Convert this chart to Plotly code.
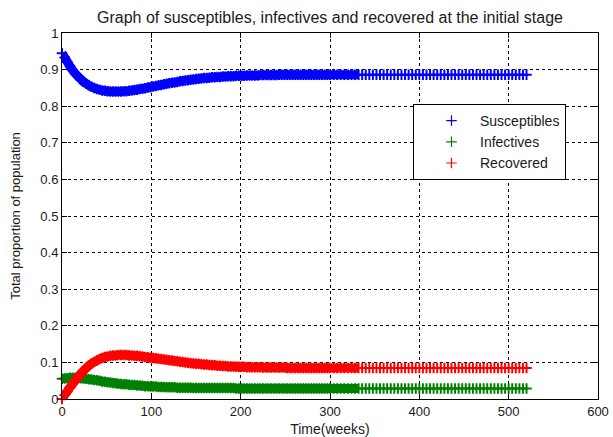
import plotly.graph_objects as go

# time points (weeks) of the solver output
time_weeks = [
    0, 3, 6, 9, 12, 15, 18, 21, 24, 27,
    30, 33, 36, 39, 42, 45, 48, 51, 54, 57,
    60, 63, 66, 69, 72, 75, 78, 81, 84, 87,
    90, 93, 96, 99, 102, 105, 108, 111, 114, 117,
    120, 123, 126, 129, 132, 135, 138, 141, 144, 147,
    150, 153, 156, 159, 162, 165, 168, 171, 174, 177,
    180, 183, 186, 189, 192, 195, 198, 201, 204, 207,
    210, 213, 216, 219, 222, 225, 228, 231, 234, 237,
    240, 243, 246, 249, 252, 255, 258, 261, 264, 267,
    270, 273, 276, 279, 282, 285, 288, 291, 294, 297,
    300,
    304, 308, 312, 316, 320, 324, 328, 332, 336, 340, 344,
    348, 352, 356, 360, 364, 368, 372, 376, 380, 384, 388,
    392, 396, 400, 404, 408, 412, 416, 420, 424, 428, 432,
    436, 440, 444, 448, 452, 456, 460, 464, 468, 472, 476,
    480, 484, 488, 492, 496, 500, 504, 508, 512, 516, 520,
]

susceptibles = [
    0.945, 0.933, 0.921, 0.909, 0.898, 0.889, 0.881, 0.874, 0.867, 0.862,
    0.857, 0.853, 0.850, 0.847, 0.845, 0.843, 0.842, 0.841, 0.840, 0.840,
    0.840, 0.840, 0.840, 0.841, 0.841, 0.842, 0.843, 0.844, 0.845, 0.847,
    0.848, 0.849, 0.851, 0.852, 0.854, 0.855, 0.857, 0.858, 0.860, 0.861,
    0.863, 0.864, 0.865, 0.866, 0.868, 0.869, 0.870, 0.871, 0.872, 0.873,
    0.874, 0.875, 0.876, 0.877, 0.877, 0.878, 0.879, 0.879, 0.880, 0.880,
    0.881, 0.881, 0.882, 0.882, 0.882, 0.883, 0.883, 0.883, 0.883, 0.884,
    0.884, 0.884, 0.884, 0.884, 0.885, 0.885, 0.885, 0.885, 0.885, 0.885,
    0.885, 0.886, 0.886, 0.886, 0.886, 0.886, 0.886, 0.886, 0.886, 0.886,
    0.886, 0.886, 0.886, 0.886, 0.886, 0.886, 0.886, 0.886, 0.886, 0.886,
    0.886,
    0.886, 0.886, 0.886, 0.886, 0.886, 0.886, 0.886, 0.886, 0.886, 0.886, 0.886,
    0.886, 0.886, 0.886, 0.886, 0.886, 0.886, 0.886, 0.886, 0.886, 0.886, 0.886,
    0.886, 0.886, 0.886, 0.886, 0.886, 0.886, 0.886, 0.886, 0.886, 0.886, 0.886,
    0.886, 0.886, 0.886, 0.886, 0.886, 0.886, 0.886, 0.886, 0.886, 0.886, 0.886,
    0.886, 0.886, 0.886, 0.886, 0.886, 0.886, 0.886, 0.886, 0.886, 0.886, 0.886,
]

infectives = [
    0.055, 0.056, 0.057, 0.058, 0.058, 0.058, 0.057, 0.057, 0.056, 0.055,
    0.054, 0.053, 0.052, 0.051, 0.050, 0.048, 0.047, 0.046, 0.045, 0.044,
    0.043, 0.042, 0.041, 0.040, 0.040, 0.039, 0.038, 0.038, 0.037, 0.037,
    0.036, 0.035, 0.035, 0.034, 0.034, 0.034, 0.033, 0.033, 0.033, 0.032,
    0.032, 0.032, 0.032, 0.031, 0.031, 0.031, 0.031, 0.031, 0.031, 0.030,
    0.030, 0.030, 0.030, 0.030, 0.030, 0.030, 0.030, 0.030, 0.030, 0.030,
    0.030, 0.030, 0.030, 0.030, 0.030, 0.029, 0.029, 0.029, 0.029, 0.029,
    0.029, 0.029, 0.029, 0.029, 0.029, 0.029, 0.029, 0.029, 0.029, 0.029,
    0.029, 0.029, 0.029, 0.029, 0.029, 0.029, 0.029, 0.029, 0.029, 0.029,
    0.029, 0.029, 0.029, 0.029, 0.029, 0.029, 0.029, 0.029, 0.029, 0.029,
    0.029,
    0.029, 0.029, 0.029, 0.029, 0.029, 0.029, 0.029, 0.029, 0.029, 0.029, 0.029,
    0.029, 0.029, 0.029, 0.029, 0.029, 0.029, 0.029, 0.029, 0.029, 0.029, 0.029,
    0.029, 0.029, 0.029, 0.029, 0.029, 0.029, 0.029, 0.029, 0.029, 0.029, 0.029,
    0.029, 0.029, 0.029, 0.029, 0.029, 0.029, 0.029, 0.029, 0.029, 0.029, 0.029,
    0.029, 0.029, 0.029, 0.029, 0.029, 0.029, 0.029, 0.029, 0.029, 0.029, 0.029,
]

recovered = [
    0.000, 0.011, 0.021, 0.032, 0.042, 0.051, 0.060, 0.069, 0.077, 0.084,
    0.091, 0.097, 0.101, 0.105, 0.109, 0.112, 0.115, 0.116, 0.118, 0.119,
    0.119, 0.120, 0.120, 0.120, 0.120, 0.119, 0.119, 0.118, 0.118, 0.117,
    0.116, 0.115, 0.114, 0.113, 0.112, 0.111, 0.110, 0.109, 0.108, 0.107,
    0.106, 0.105, 0.104, 0.103, 0.102, 0.101, 0.100, 0.099, 0.098, 0.097,
    0.096, 0.096, 0.095, 0.094, 0.094, 0.093, 0.092, 0.092, 0.091, 0.091,
    0.090, 0.090, 0.089, 0.089, 0.089, 0.088, 0.088, 0.088, 0.088, 0.087,
    0.087, 0.087, 0.087, 0.087, 0.087, 0.086, 0.086, 0.086, 0.086, 0.086,
    0.086, 0.086, 0.086, 0.086, 0.085, 0.085, 0.085, 0.085, 0.085, 0.085,
    0.085, 0.085, 0.085, 0.085, 0.085, 0.085, 0.085, 0.085, 0.085, 0.085,
    0.085,
    0.085, 0.085, 0.085, 0.085, 0.085, 0.085, 0.085, 0.085, 0.085, 0.085, 0.085,
    0.085, 0.085, 0.085, 0.085, 0.085, 0.085, 0.085, 0.085, 0.085, 0.085, 0.085,
    0.085, 0.085, 0.085, 0.085, 0.085, 0.085, 0.085, 0.085, 0.085, 0.085, 0.085,
    0.085, 0.085, 0.085, 0.085, 0.085, 0.085, 0.085, 0.085, 0.085, 0.085, 0.085,
    0.085, 0.085, 0.085, 0.085, 0.085, 0.085, 0.085, 0.085, 0.085, 0.085, 0.085,
]

series_names = ["Susceptibles", "Infectives", "Recovered"]
series_colors = ["#0000FF", "#008000", "#FF0000"]
x_ticks = [0, 100, 200, 300, 400, 500, 600]
y_ticks = [0, 0.1, 0.2, 0.3, 0.4, 0.5, 0.6, 0.7, 0.8, 0.9, 1]

FONT = "Arial, 'Liberation Sans', Helvetica, sans-serif"
TXT = "#1a1a1a"

# where the solver output is so dense that the '+' marks merge into a solid band
n_dense = time_weeks.index(332) + 1

fig = go.Figure()
for name, vals, col in zip(series_names, [susceptibles, infectives, recovered], series_colors):
    # merged band of overlapping markers (dense early part)
    fig.add_trace(go.Scatter(
        x=time_weeks[:n_dense], y=vals[:n_dense], mode="lines",
        line=dict(color=col, width=9, shape="spline"),
        showlegend=False, hoverinfo="skip", cliponaxis=False,
    ))
    # the '+' markers themselves
    fig.add_trace(go.Scatter(
        x=time_weeks, y=vals, name=name, mode="markers",
        cliponaxis=False, showlegend=False,
        marker=dict(symbol="cross-thin", size=7.5, color=col,
                    line=dict(width=2, color=col)),
    ))

# legend entries (thin '+' symbol as in the key)
for name, col in zip(series_names, series_colors):
    fig.add_trace(go.Scatter(
        x=[None], y=[None], name=name, mode="markers",
        marker=dict(symbol="cross-thin", size=7.5, color=col,
                    line=dict(width=1.2, color=col)),
    ))

axis_common = dict(
    showline=True, linecolor="black", linewidth=1, mirror="all",
    ticks="inside", ticklen=5, tickcolor="black",
    showgrid=True, gridcolor="black", gridwidth=1, griddash="3px,3px",
    zeroline=False, automargin=False,
    tickfont=dict(family=FONT, size=13, color=TXT),
)

fig.update_xaxes(range=[0, 600], tickvals=x_ticks,
                 title=dict(text="Time(weeks)", standoff=10,
                            font=dict(family=FONT, size=14, color=TXT)),
                 **axis_common)
fig.update_yaxes(range=[0, 1], tickvals=y_ticks,
                 title=dict(text="Total proportion of population", standoff=16,
                            font=dict(family=FONT, size=13, color=TXT)),
                 **axis_common)

fig.update_layout(
    width=613, height=437,
    margin=dict(l=62, r=15, t=33, b=38, autoexpand=False),
    paper_bgcolor="white", plot_bgcolor="white",
    title=dict(text="Graph of susceptibles, infectives and recovered at the initial stage",
               x=(62 + 598) / 2 / 613, xanchor="center", y=1 - 17 / 437, yanchor="middle",
               font=dict(family=FONT, size=16, color=TXT)),
    legend=dict(x=(413 - 62) / 536, y=(399 - 104) / 366, xanchor="left", yanchor="top",
                bgcolor="white", bordercolor="black", borderwidth=1,
                font=dict(family=FONT, size=14, color=TXT),
                itemwidth=47, indentation=9, tracegroupgap=0),
    showlegend=True,
)

fig.write_html("out.html")
